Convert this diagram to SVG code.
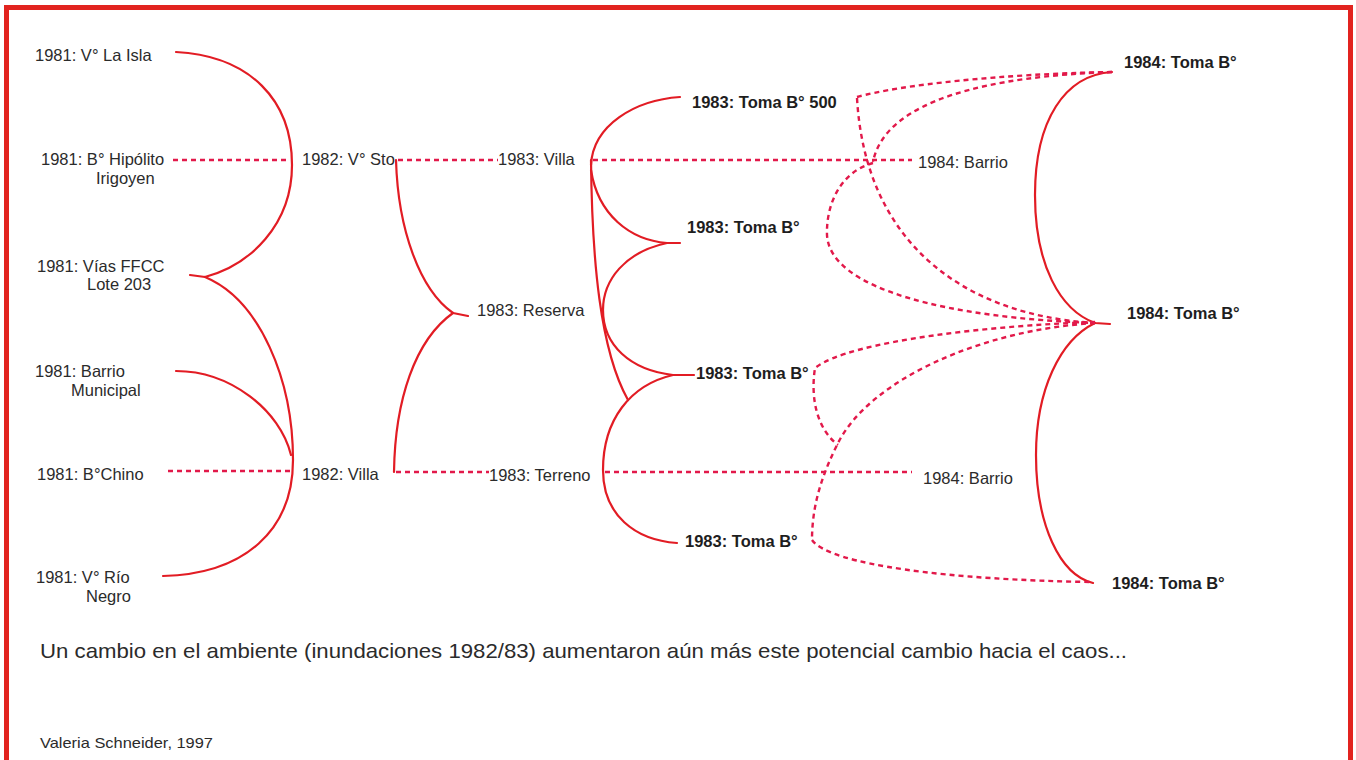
<svg xmlns="http://www.w3.org/2000/svg" width="1356" height="760" viewBox="0 0 1356 760">
<style>
text{font-family:"Liberation Sans",Arial,sans-serif;font-size:16.5px;fill:#2b2b2b}
.b{font-weight:bold;fill:#1e1e1e}
.s{fill:none;stroke:#e21c24;stroke-width:2.2;stroke-linecap:round;stroke-linejoin:round}
.d{fill:none;stroke:#e2194a;stroke-width:2.4;stroke-dasharray:5 4}
.frame{fill:none;stroke:#e2231f;stroke-width:5}
</style>
<rect class="frame" x="6.5" y="7.5" width="1344" height="800"/>
<g id="connectors">
<path class="s" d="M176,52 C250,56 292,100 292,165 C292,225 250,265 205,277 L190,275"/>
<path class="s" d="M205,277 C260,300 293,380 293,460 C293,530 245,574 163,576"/>
<path class="s" d="M176,371 C230,371 280,410 291,455"/>
<path class="d" d="M173,160 L290,160"/>
<path class="d" d="M168,471 L290,471"/>
<path class="s" d="M396,160 C398,230 420,290 453,313 L468,316"/>
<path class="s" d="M453,313 C415,340 395,400 394,472"/>
<path class="d" d="M398,160 L498,160"/>
<path class="d" d="M396,472 L489,472"/>
<path class="s" d="M680,97 C635,100 593,125 591,165"/>
<path class="s" d="M591,160 C592,260 600,350 628,400"/>
<path class="s" d="M591,170 C598,215 630,240 667,243 L680,243"/>
<path class="s" d="M667,243 C625,252 603,280 603,310 C603,345 630,370 673,375 L694,375"/>
<path class="s" d="M673,375 C630,385 603,420 603,470 C603,515 635,540 677,543"/>
<path class="d" d="M593,160 L912,160"/>
<path class="d" d="M605,472 L912,472"/>
<path class="s" d="M1112,72 C1065,75 1035,120 1035,195 C1035,265 1060,310 1095,323 L1110,324"/>
<path class="s" d="M1095,323 C1060,340 1036,390 1036,455 C1036,525 1060,575 1093,583"/>
<path class="d" d="M857,97 C900,85 1000,74 1112,72"/>
<path class="d" d="M857,98 C865,240 960,315 1095,323"/>
<path class="d" d="M1112,72 C990,76 885,100 873,162"/>
<path class="d" d="M873,163 C840,172 826,205 827,235 C830,290 950,318 1095,323"/>
<path class="d" d="M1095,322 C1000,325 850,340 815,368 C810,400 818,430 838,445"/>
<path class="d" d="M1095,323 C980,330 870,380 838,443 C822,475 812,505 812,540"/>
<path class="d" d="M812,540 C830,565 950,580 1093,582"/>
</g>
<g id="n1981-isla"><text x="35" y="61">1981: V° La Isla</text></g>
<g id="n1981-hipolito"><text x="41" y="165">1981: B° Hipólito</text><text x="96" y="184">Irigoyen</text></g>
<g id="n1981-vias"><text x="37" y="272">1981: Vías FFCC</text><text x="87" y="290">Lote 203</text></g>
<g id="n1981-municipal"><text x="35" y="377">1981: Barrio</text><text x="71" y="396">Municipal</text></g>
<g id="n1981-chino"><text x="37" y="480">1981: B°Chino</text></g>
<g id="n1981-rio"><text x="36" y="583">1981: V° Río</text><text x="86" y="602">Negro</text></g>
<g id="n1982-sto"><text x="302" y="165">1982: V° Sto</text></g>
<g id="n1982-villa"><text x="302" y="480">1982: Villa</text></g>
<g id="n1983-villa"><text x="498" y="165">1983: Villa</text></g>
<g id="n1983-reserva"><text x="477" y="316">1983: Reserva</text></g>
<g id="n1983-terreno"><text x="489" y="481">1983: Terreno</text></g>
<g id="n1983-toma500"><text class="b" x="692" y="108">1983: Toma B° 500</text></g>
<g id="n1983-toma1"><text class="b" x="687" y="233">1983: Toma B°</text></g>
<g id="n1983-toma2"><text class="b" x="696" y="379">1983: Toma B°</text></g>
<g id="n1983-toma3"><text class="b" x="685" y="547">1983: Toma B°</text></g>
<g id="n1984-barrio1"><text x="918" y="168">1984: Barrio</text></g>
<g id="n1984-barrio2"><text x="923" y="484">1984: Barrio</text></g>
<g id="n1984-toma1"><text class="b" x="1124" y="68">1984: Toma B°</text></g>
<g id="n1984-toma2"><text class="b" x="1127" y="319">1984: Toma B°</text></g>
<g id="n1984-toma3"><text class="b" x="1112" y="589">1984: Toma B°</text></g>
<text x="40" y="658" style="font-size:21px" textLength="1087" lengthAdjust="spacingAndGlyphs">Un cambio en el ambiente (inundaciones 1982/83) aumentaron aún más este potencial cambio hacia el caos...</text>
<text x="40" y="748" style="font-size:15px" textLength="173" lengthAdjust="spacingAndGlyphs">Valeria Schneider, 1997</text>
</svg>
